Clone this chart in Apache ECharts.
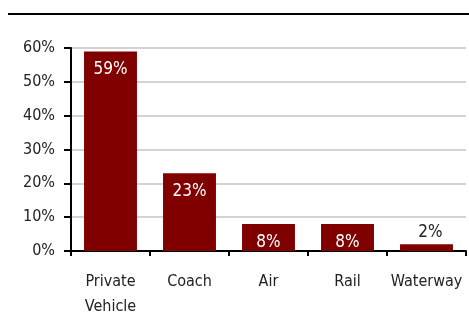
<!DOCTYPE html>
<html>
<head>
<meta charset="utf-8">
<script src="https://cdn.jsdelivr.net/npm/echarts@6/dist/echarts.min.js"></script>
<style>
  html, body { margin: 0; padding: 0; background: #fff; }
  #chart { width: 469px; height: 330px; }
</style>
</head>
<body>
<div id="chart"></div>
<script>
// Share of trips by transport mode
const categories = ['Private\nVehicle', 'Coach', 'Air', 'Rail', 'Waterway'];
const shares = [59, 23, 8, 8, 2];
const yTicks = [0, 10, 20, 30, 40, 50, 60];

const FONT = '"DejaVu Sans Condensed", "Liberation Sans Narrow", sans-serif';

const chart = echarts.init(document.getElementById('chart'), null, { renderer: 'canvas' });

chart.setOption({
  animation: false,
  graphic: [{
    type: 'rect',
    shape: { x: 8, y: 13, width: 461, height: 2 },
    style: { fill: '#000' }
  }],
  grid: { left: 71, right: 3, top: 48, bottom: 79, containLabel: false },
  xAxis: {
    type: 'category',
    data: categories,
    axisLine: { show: true, lineStyle: { color: '#000', width: 2 } },
    axisTick: { show: true, alignWithLabel: false, length: 5, lineStyle: { color: '#000', width: 2 } },
    axisLabel: {
      interval: 0,
      color: '#222', fontFamily: FONT, fontSize: 16, lineHeight: 25, margin: 18
    }
  },
  yAxis: {
    type: 'value',
    min: yTicks[0],
    max: yTicks[yTicks.length - 1],
    interval: 10,
    axisLine: { show: true, lineStyle: { color: '#000', width: 2 } },
    axisTick: { show: true, inside: false, length: 7, lineStyle: { color: '#000', width: 2 } },
    axisLabel: {
      color: '#222', fontFamily: FONT, fontSize: 16, margin: 16,
      formatter: v => v + '%'
    },
    splitLine: { show: true, lineStyle: { color: '#c4c4c4', width: 1.5 } }
  },
  series: [{
    type: 'bar',
    data: shares.map(v => ({
      value: v,
      label: v < 5
        ? { position: 'top', color: '#222', distance: 3, offset: [4, 0] }
        : { position: 'insideTop', color: '#fff', distance: 10 }
    })),
    barWidth: '67%',
    itemStyle: { color: '#800000' },
    label: {
      show: true,
      fontFamily: FONT,
      fontSize: 17,
      formatter: p => p.value + '%'
    }
  }]
});
</script>
</body>
</html>
